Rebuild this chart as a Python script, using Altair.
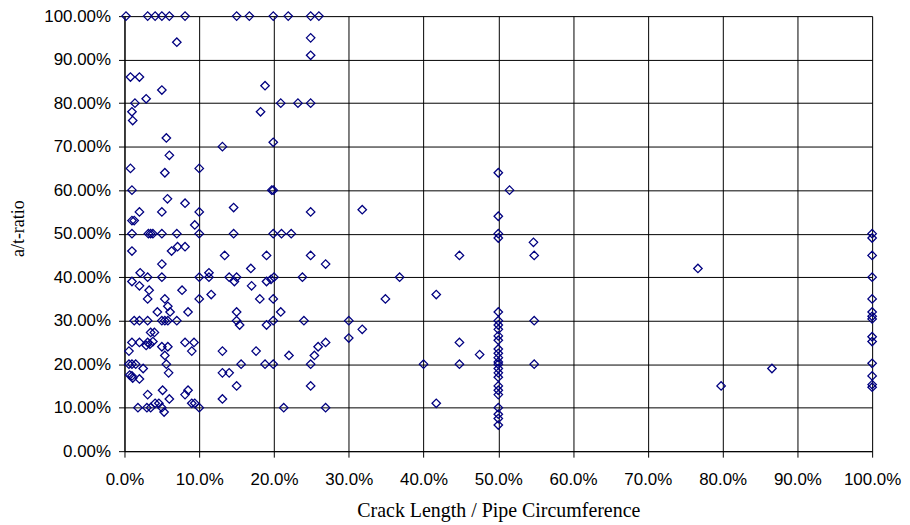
import altair as alt
import pandas as pd

# Crack length / pipe circumference (%)
crack_len_pct = [
    0.2, 3.1, 4.1, 5.0, 6.0, 8.1, 15.0, 16.7, 19.9, 21.9, 24.9, 26.0,
    7.0, 24.9, 24.9,
    0.8, 2.0, 5.0, 18.8,
    1.4, 2.9, 20.9, 23.2, 24.9,
    1.0, 18.2, 1.1,
    5.6, 13.1, 19.9, 6.0,
    0.8, 5.4, 10.0,
    1.0, 19.7, 19.9,
    5.75, 8.1, 2.0, 5.0, 10.0, 14.6, 24.9,
    1.0, 1.3, 9.4,
    1.0, 3.2, 3.5, 3.8, 5.0, 7.0, 10.0, 14.6, 19.9, 21.0, 22.3,
    1.0, 6.3, 7.1, 8.1,
    5.0, 13.4, 19.0, 24.9, 26.9,
    2.1, 3.1, 5.0, 10.0, 11.3, 11.3,
    14.0, 15.0, 14.7, 16.9, 17.0, 19.0, 19.6, 20.0, 23.8,
    1.0, 2.0, 3.3, 7.7,
    3.1, 5.4, 10.0, 11.6, 18.1, 19.9,
    5.8, 4.4, 6.1, 8.5, 15.0, 20.9,
    1.3, 2.0, 3.1, 5.0, 5.4, 5.8, 7.0, 15.0, 19.9, 24.0,
    15.4, 19.0,
    3.5, 4.0,
    1.0, 2.0, 3.1, 3.8, 2.9, 3.4,
    5.0, 5.8, 8.1, 9.3, 9.0, 0.6, 5.4,
    13.1, 17.6, 22.0, 25.4, 25.9, 26.9,
    0.6, 1.0, 1.5, 5.6, 15.6, 18.8, 19.9, 24.9,
    2.5, 5.9, 13.1, 14.0,
    0.7, 1.0, 1.1, 2.0,
    15.0, 24.9,
    3.1, 5.1, 8.1, 8.5, 6.0, 13.1,
    4.1, 4.6, 9.0, 9.4,
    1.8, 3.0, 3.5, 5.0, 10.0, 21.3, 26.9,
    5.3,
    30.0, 30.0, 31.8, 31.8, 34.9, 36.8, 41.7, 41.7, 40.0,
    44.8, 44.8, 44.8, 47.5,
    50.0, 51.5, 50.0, 50.0, 50.0, 54.7, 54.8, 54.8, 54.8,
    50.0, 50.0, 50.0, 50.0, 50.0, 50.0, 50.0, 50.0, 50.0, 50.0, 50.0,
    50.0, 50.0, 50.0, 50.0, 50.0, 50.0, 50.0, 50.0, 50.0, 50.0,
    76.7, 86.6, 79.8,
    100.0, 100.0, 100.0, 100.0, 100.0, 100.0, 100.0,
    100.0, 100.0, 100.0, 100.0, 100.0, 100.0, 100.0,
]

# a/t ratio (%)
at_ratio_pct = [
    100, 100, 100, 100, 100, 100, 100, 100, 100, 100, 100, 100,
    94, 95, 91,
    86, 86, 83, 84,
    80, 81, 80, 80, 80,
    78, 78, 76,
    72, 70, 71, 68,
    65, 64, 65,
    60, 60, 60,
    58, 57, 55, 55, 55, 56, 55,
    53, 53, 52,
    50, 50, 50, 50, 50, 50, 50, 50, 50, 50, 50,
    46, 46, 47, 47,
    43, 45, 45, 45, 43,
    41, 40, 40, 40, 41, 40,
    40, 40, 39, 42, 38, 39, 39.5, 40, 40,
    39, 38, 37, 37,
    35, 35, 35, 36, 35, 35,
    33.3, 32, 32, 32, 32, 32,
    30, 30, 30, 30, 30, 30, 30, 30, 30, 30,
    29, 29,
    27.3, 27.3,
    25, 25, 25, 25.2, 24.3, 24.6,
    24, 24, 25, 25, 23, 23, 22,
    23, 23, 22, 22, 24, 25,
    20, 20, 20, 20, 20, 20, 20, 20,
    19, 18, 18, 18,
    17.5, 17.3, 16.8, 16.6,
    15, 15,
    13, 14, 13, 14, 12, 12,
    11, 11, 11, 11,
    10, 10, 10, 10, 10, 10, 10,
    9,
    30, 26, 55.5, 28, 35, 40, 36, 11, 20,
    45, 25, 20, 22.2,
    64, 60, 54, 50, 49, 48, 45, 30, 20,
    32, 30, 29, 28, 26.5, 25.5, 23.5, 22.5, 21.5, 20.5, 20,
    19, 18, 17, 15, 14, 13, 10, 8.5, 7.5, 6,
    42, 19, 15,
    50, 49, 45, 40, 35, 32, 31,
    30.4, 26.3, 25.2, 20.2, 17.3, 15.3, 14.7,
]

x_ticks = [i / 10 for i in range(11)]
y_ticks = [i / 10 for i in range(11)]

df = pd.DataFrame({
    "x": [v / 100 for v in crack_len_pct],
    "y": [v / 100 for v in at_ratio_pct],
})

label_font = "Liberation Sans"
title_font = "Liberation Serif"

chart = (
    alt.Chart(df)
    .mark_point(shape="diamond", filled=False, color="#000080", size=72,
                strokeWidth=1.3, opacity=1, clip=False)
    .encode(
        x=alt.X("x:Q",
                scale=alt.Scale(domain=[0, 1], nice=False, zero=True),
                axis=alt.Axis(values=x_ticks, format=".1%",
                              title="Crack Length / Pipe Circumference",
                              titleFont=title_font, titleFontSize=20,
                              titleFontWeight="normal", titleColor="black",
                              titleY=66, titleBaseline="alphabetic",
                              labelFont=label_font, labelFontSize=17,
                              labelColor="black", labelPadding=14,
                              tickSize=6, tickColor="black",
                              domainColor="black", grid=True,
                              gridColor="black", gridOpacity=1,
                              labelFlush=False)),
        y=alt.Y("y:Q",
                scale=alt.Scale(domain=[0, 1], nice=False, zero=True),
                axis=alt.Axis(values=y_ticks, format=".2%",
                              title="a/t-ratio",
                              titleFont=title_font, titleFontSize=18,
                              titleFontWeight="normal", titleColor="black",
                              titleAngle=270, titleX=-106, titleY=213,
                              titleBaseline="middle", titleAlign="center",
                              labelFont=label_font, labelFontSize=17,
                              labelColor="black", labelPadding=8,
                              tickSize=6, tickColor="black",
                              domainColor="black", grid=True,
                              gridColor="black", gridOpacity=1,
                              labelFlush=False)),
    )
    .properties(
        width=751, height=437,
        autosize=alt.AutoSizeParams(type="none"),
        padding={"left": 117, "top": 7, "right": 30, "bottom": 72},
    )
    .configure_view(stroke="#808080", strokeWidth=1)
    .configure(background="white")
)

chart.save("out.html", embed_options={"renderer": "svg", "actions": False})
